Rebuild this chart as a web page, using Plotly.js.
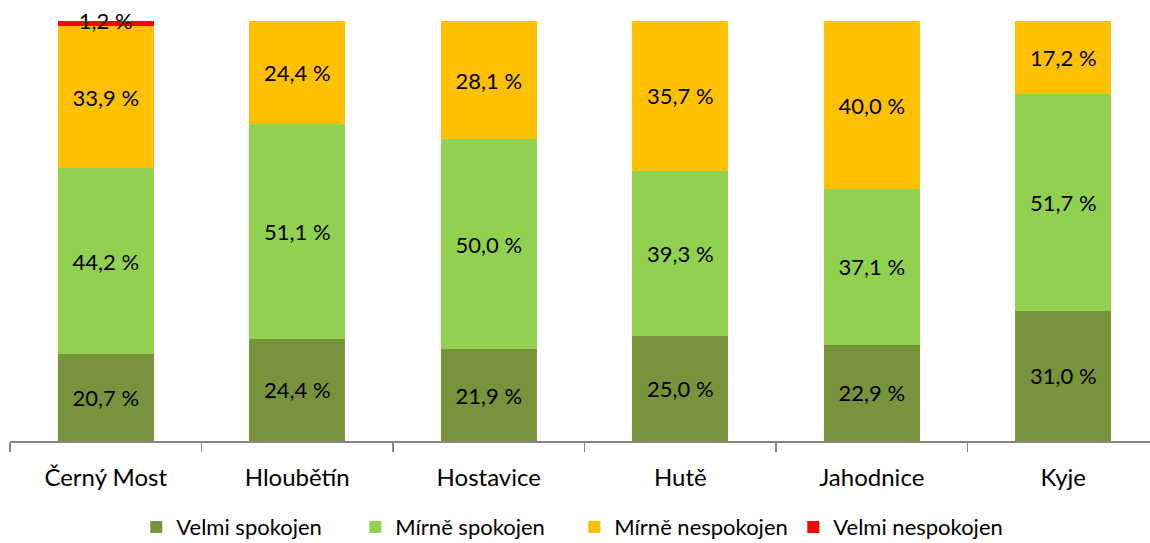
<!DOCTYPE html>
<html>
<head>
<meta charset="utf-8">
<script src="https://cdn.plot.ly/plotly-3.0.1.min.js"></script>
<style>html,body{margin:0;padding:0;background:#fff;}#chart{width:1150px;height:543px;}</style>
</head>
<body>
<div id="chart"></div>
<script>
const categories = ["Černý Most", "Hloubětín", "Hostavice", "Hutě", "Jahodnice", "Kyje"];
const velmiSpokojen = [20.7, 24.4, 21.9, 25.0, 22.9, 31.0];
const mirneSpokojen = [44.2, 51.1, 50.0, 39.3, 37.1, 51.7];
const mirneNespokojen = [33.9, 24.4, 28.1, 35.7, 40.0, 17.2];
const velmiNespokojen = [1.2, 0, 0, 0, 0, 0];
const seriesNames = ["Velmi spokojen", "Mírně spokojen", "Mírně nespokojen", "Velmi nespokojen"];
const seriesColors = ["#77933C", "#92D050", "#FFC000", "#FF0000"];

const fmt = v => v > 0 ? v.toFixed(1).replace('.', ',') + ' %' : '';
const FONT = "Lato, 'Open Sans', sans-serif";

const allSeries = [velmiSpokojen, mirneSpokojen, mirneNespokojen, velmiNespokojen];
const lastIdx = allSeries.length - 1;
const traces = allSeries.map((vals, i) => ({
  type: 'bar',
  name: seriesNames[i],
  x: categories,
  y: vals,
  text: i === lastIdx ? undefined : vals.map(fmt),
  textposition: i === lastIdx ? 'none' : 'inside',
  insidetextanchor: 'middle',
  constraintext: 'none',
  textangle: 0,
  textfont: {family: FONT, size: 22, color: '#000'},
  marker: {color: seriesColors[i], line: {width: 0}},
  hoverinfo: 'none'
}));

// labels for the thin top segment, placed at its middle via the y axis
const base = categories.map((_, k) => velmiSpokojen[k] + mirneSpokojen[k] + mirneNespokojen[k]);
traces.push({
  type: 'scatter', mode: 'text', showlegend: false, cliponaxis: false,
  x: categories,
  y: velmiNespokojen.map((v, k) => base[k] + v / 2),
  text: velmiNespokojen.map(fmt),
  textposition: 'middle center',
  textfont: {family: FONT, size: 22, color: '#000'},
  hoverinfo: 'none'
});

const layout = {
  width: 1150, height: 543,
  barmode: 'stack',
  bargap: 0.5,
  margin: {l: 10, r: 0, t: 21, b: 102, autoexpand: false},
  paper_bgcolor: '#fff', plot_bgcolor: '#fff',
  font: {family: FONT, size: 22, color: '#000'},
  xaxis: {
    type: 'category',
    range: [-0.5, 5.453],
    showline: true, linecolor: '#868686', linewidth: 1.5,
    ticks: 'outside', tickson: 'boundaries', ticklen: 9, tickcolor: '#868686', tickwidth: 1.5,
    tickfont: {family: FONT, size: 24, color: '#000'},
    ticklabelstandoff: 15,
    showgrid: false, zeroline: false, fixedrange: true, automargin: false
  },
  yaxis: {
    range: [0, 100],
    visible: false, showgrid: false, zeroline: false, fixedrange: true
  },
  legend: {
    orientation: 'h', x: 0.495, xanchor: 'center', y: -0.155, yanchor: 'top',
    font: {family: FONT, size: 22, color: '#000'},
    entrywidth: 174, entrywidthmode: 'pixels',
    tracegroupgap: 0, traceorder: 'normal'
  },
  showlegend: true
};

Plotly.newPlot('chart', traces, layout, {displayModeBar: false, staticPlot: true});
</script>
</body>
</html>
